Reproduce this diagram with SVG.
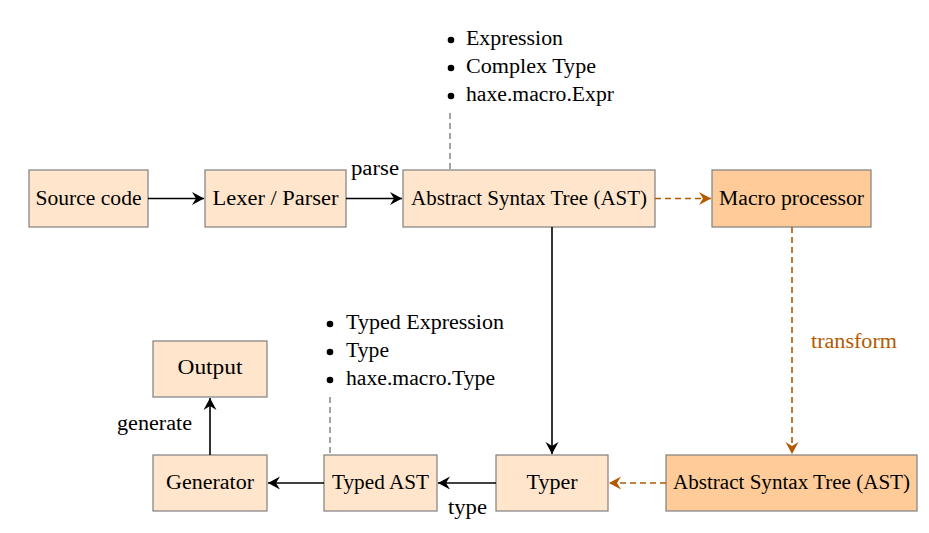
<svg xmlns="http://www.w3.org/2000/svg" width="929" height="533" viewBox="0 0 929 533">
<style>
.n{fill:#FFE5CC;stroke:#7f7f7f;stroke-width:1.2}
.m{fill:#FFCC99;stroke:#7f7f7f;stroke-width:1.2}
text{font-family:"Liberation Serif","DejaVu Serif",serif;font-size:20px;fill:#000}
.c{text-anchor:middle}
.k{fill:none;stroke:#000;stroke-width:1.6}
.o{fill:none;stroke:#B35A00;stroke-width:1.6;stroke-dasharray:6 4}
.g{fill:none;stroke:#666;stroke-width:1.2;stroke-dasharray:6 4}
.ot{fill:#B35A00}
</style>
<defs>
<marker id="ak" markerWidth="16" markerHeight="16" refX="13" refY="8" orient="auto" markerUnits="userSpaceOnUse">
<path d="M13,8 L1,1.5 L5,8 L1,14.5 Z" fill="#000"/>
</marker>
<marker id="ao" markerWidth="16" markerHeight="16" refX="13" refY="8" orient="auto" markerUnits="userSpaceOnUse">
<path d="M13,8 L1,1.5 L5,8 L1,14.5 Z" fill="#B35A00"/>
</marker>
</defs>
<g id="source"><rect class="n" x="29" y="170" width="119" height="57"/><text class="c" x="88.5" y="205" textLength="106" lengthAdjust="spacingAndGlyphs">Source code</text></g>
<g id="lexer"><rect class="n" x="205" y="170" width="141" height="57"/><text class="c" x="275.5" y="205" textLength="126" lengthAdjust="spacingAndGlyphs">Lexer / Parser</text></g>
<g id="ast1"><rect class="n" x="403" y="170" width="252" height="57"/><text class="c" x="529" y="205" textLength="236" lengthAdjust="spacingAndGlyphs">Abstract Syntax Tree (AST)</text></g>
<g id="macro"><rect class="m" x="712" y="170" width="159" height="57"/><text class="c" x="791.5" y="205" textLength="145" lengthAdjust="spacingAndGlyphs">Macro processor</text></g>
<g id="ast2"><rect class="m" x="666" y="455" width="251" height="56"/><text class="c" x="791.5" y="489" textLength="237" lengthAdjust="spacingAndGlyphs">Abstract Syntax Tree (AST)</text></g>
<g id="typer"><rect class="n" x="496" y="455" width="112" height="56"/><text class="c" x="552" y="489" textLength="51" lengthAdjust="spacingAndGlyphs">Typer</text></g>
<g id="typedast"><rect class="n" x="324" y="455" width="113" height="56"/><text class="c" x="380.5" y="489" textLength="97" lengthAdjust="spacingAndGlyphs">Typed AST</text></g>
<g id="generator"><rect class="n" x="153" y="455" width="114" height="56"/><text class="c" x="210" y="489" textLength="88" lengthAdjust="spacingAndGlyphs">Generator</text></g>
<g id="output"><rect class="n" x="153" y="341" width="114" height="56"/><text class="c" x="210" y="374" textLength="65" lengthAdjust="spacingAndGlyphs">Output</text></g>
<g id="list1">
<circle cx="451" cy="40" r="3.3"/><text x="466" y="45" textLength="97" lengthAdjust="spacingAndGlyphs">Expression</text>
<circle cx="451" cy="68" r="3.3"/><text x="466" y="73" textLength="130" lengthAdjust="spacingAndGlyphs">Complex Type</text>
<circle cx="451" cy="96" r="3.3"/><text x="466" y="101" textLength="148" lengthAdjust="spacingAndGlyphs">haxe.macro.Expr</text>
</g>
<g id="list2">
<circle cx="330" cy="324" r="3.3"/><text x="346" y="329" textLength="158" lengthAdjust="spacingAndGlyphs">Typed Expression</text>
<circle cx="330" cy="352" r="3.3"/><text x="346" y="357" textLength="43" lengthAdjust="spacingAndGlyphs">Type</text>
<circle cx="330" cy="380" r="3.3"/><text x="346" y="385" textLength="149" lengthAdjust="spacingAndGlyphs">haxe.macro.Type</text>
</g>
<g id="connectors">
<line class="k" x1="148" y1="198.5" x2="204" y2="198.5" marker-end="url(#ak)"/>
<line class="k" x1="346" y1="198.5" x2="402" y2="198.5" marker-end="url(#ak)"/>
<text x="375" y="175" class="c" textLength="48" lengthAdjust="spacingAndGlyphs">parse</text>
<line class="o" x1="655" y1="198.5" x2="711" y2="198.5" marker-end="url(#ao)"/>
<line class="o" x1="792" y1="227" x2="792" y2="454" marker-end="url(#ao)"/>
<text x="811" y="348" class="ot" textLength="86" lengthAdjust="spacingAndGlyphs">transform</text>
<line class="o" x1="666" y1="483" x2="609" y2="483" marker-end="url(#ao)"/>
<line class="k" x1="552" y1="227" x2="552" y2="454" marker-end="url(#ak)"/>
<line class="k" x1="496" y1="483" x2="438" y2="483" marker-end="url(#ak)"/>
<text x="467.5" y="514" class="c" textLength="39" lengthAdjust="spacingAndGlyphs">type</text>
<line class="k" x1="324" y1="483" x2="268" y2="483" marker-end="url(#ak)"/>
<line class="k" x1="210" y1="455" x2="210" y2="398" marker-end="url(#ak)"/>
<text x="192" y="430" text-anchor="end" textLength="75" lengthAdjust="spacingAndGlyphs">generate</text>
<line class="g" x1="450" y1="113" x2="450" y2="170"/>
<line class="g" x1="330" y1="397" x2="330" y2="455"/>
</g>
</svg>
